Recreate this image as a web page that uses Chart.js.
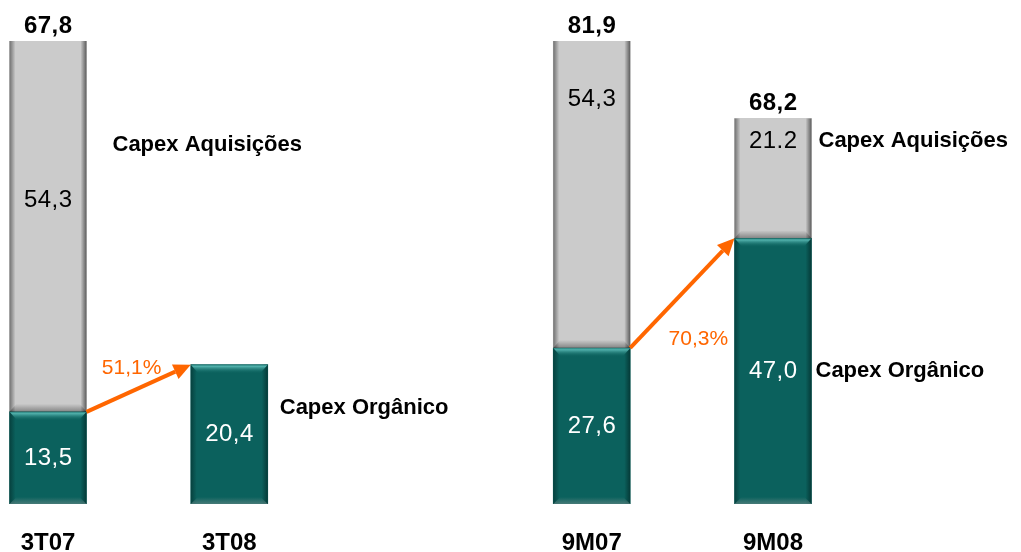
<!DOCTYPE html>
<html>
<head>
<meta charset="utf-8">
<script src="https://cdn.jsdelivr.net/npm/chart.js@4.4.1/dist/chart.umd.min.js"></script>
<style>
  html, body { margin: 0; padding: 0; background: #fff; }
  #wrap { width: 1021px; height: 552px; }
</style>
</head>
<body>
<div id="wrap"><canvas id="capex-chart" width="1021" height="552"></canvas></div>
<script>
// Capex (R$ milhões) - trimestre e acumulado
const leftPeriods = ["3T07", "3T08"];
const leftOrganico = [13.5, 20.4];
const leftAquisicoes = [54.3, null];

const rightPeriods = ["9M07", "9M08"];
const rightOrganico = [27.6, 47.0];
const rightAquisicoes = [54.3, 21.2];
const rightAquisicoesText = ["54,3", "21.2"];

const serieNames = ["Capex Orgânico", "Capex Aquisições"];

// slot of each bar on the x axis (slot 2 is the gap between the panels)
const leftSlots = [0, 1];
const rightSlots = [3, 4];

const FONT = "'Liberation Sans', Arial, sans-serif";
const TEAL = "#0b615d";
const GREY = "#cbcbcb";
const ORANGE = "#ff6600";

Chart.defaults.font.family = FONT;

const fmt = v => v.toFixed(1).replace(".", ",");
const points = (slots, values) => slots.map((s, i) => ({ x: s, y: values[i] }));
const maxTotal = (a, b) => Math.max(...a.map((v, i) => v + (b[i] || 0)));

const allSlots = leftSlots.concat(rightSlots);
const allPeriods = leftPeriods.concat(rightPeriods);

// x range so that slot 0 sits at 48px and slot 4 at 773px of the 1021px canvas
const slotPx = (773 - 48) / 4;
const xMin = -48 / slotPx;
const xMax = xMin + 1021 / slotPx;

const panels = [
  { org: 0, aq: 1, pct: [-7, -20],
    notes: [{ ds: 1, idx: 0, dx: 26, at: 0.28, text: serieNames[1] },
            { ds: 0, idx: 1, dx: 12, at: 0.31, text: serieNames[0] }] },
  { org: 2, aq: 3, pct: [16, 46],
    notes: [{ ds: 3, idx: 1, dx: 7, at: 0.19, text: serieNames[1] },
            { ds: 2, idx: 1, dx: 4, at: 0.5, text: serieNames[0] }] }
];

function drawText(ctx, text, x, y, font, color, align, spacing) {
  ctx.save();
  ctx.font = font;
  ctx.fillStyle = color;
  ctx.textAlign = align || "center";
  ctx.textBaseline = "middle";
  ctx.letterSpacing = (spacing || 0) + "px";
  const dx = align === "left" ? 0 : (spacing || 0) / 2;
  ctx.fillText(text, x + dx, y);
  ctx.restore();
}

function edgeGrad(ctx, x0, x1, c0, c1) {
  const g = ctx.createLinearGradient(x0, 0, x1, 0);
  g.addColorStop(0, c0);
  g.addColorStop(1, c1);
  return g;
}

function shade(ctx, x0, y0, w, h, kind) {
  const x1 = x0 + w, y1 = y0 + h;
  ctx.save();
  const dark = kind === "org" ? "rgba(0,25,24," : "rgba(0,0,0,";
  ctx.fillStyle = edgeGrad(ctx, x0, x0 + 6, dark + "0.45)", dark + "0)");
  ctx.fillRect(x0, y0, 6, h);
  ctx.fillStyle = edgeGrad(ctx, x1 - 6, x1, dark + "0)", dark + "0.55)");
  ctx.fillRect(x1 - 6, y0, 6, h);

  if (kind === "org") {
    const g = ctx.createLinearGradient(0, y0, 0, y0 + 9);
    g.addColorStop(0, "rgba(40,130,125,1)");
    g.addColorStop(0.2, "rgba(80,175,170,1)");
    g.addColorStop(1, "rgba(11,97,93,0)");
    ctx.fillStyle = g;
    ctx.beginPath();
    ctx.moveTo(x0, y0); ctx.lineTo(x1, y0); ctx.lineTo(x1 - 8, y0 + 9); ctx.lineTo(x0 + 8, y0 + 9);
    ctx.closePath(); ctx.fill();
    const b = ctx.createLinearGradient(0, y1 - 7, 0, y1);
    b.addColorStop(0, "rgba(90,130,128,0)");
    b.addColorStop(1, "rgba(90,130,128,0.75)");
    ctx.fillStyle = b;
    ctx.beginPath();
    ctx.moveTo(x0, y1); ctx.lineTo(x1, y1); ctx.lineTo(x1 - 7, y1 - 7); ctx.lineTo(x0 + 7, y1 - 7);
    ctx.closePath(); ctx.fill();
  } else {
    const b = ctx.createLinearGradient(0, y1 - 8, 0, y1);
    b.addColorStop(0, "rgba(0,0,0,0)");
    b.addColorStop(1, "rgba(0,0,0,0.35)");
    ctx.fillStyle = b;
    ctx.beginPath();
    ctx.moveTo(x0, y1); ctx.lineTo(x1, y1); ctx.lineTo(x1 - 7, y1 - 8); ctx.lineTo(x0 + 7, y1 - 8);
    ctx.closePath(); ctx.fill();
  }
  ctx.restore();
}

function barBox(chart, di, i) {
  const p = chart.getDatasetMeta(di).data[i].getProps(["x", "y", "base", "width"], true);
  return { left: p.x - p.width / 2, right: p.x + p.width / 2, top: p.y, bottom: p.base, cx: p.x, h: p.base - p.y, w: p.width };
}

function arrow(ctx, xa, ya, xb, yb) {
  const ang = Math.atan2(yb - ya, xb - xa);
  const len = 17, half = 8;
  const bx = xb - len * Math.cos(ang), by = yb - len * Math.sin(ang);
  ctx.save();
  ctx.strokeStyle = ORANGE;
  ctx.fillStyle = ORANGE;
  ctx.lineWidth = 4;
  ctx.beginPath(); ctx.moveTo(xa, ya); ctx.lineTo(bx, by); ctx.stroke();
  ctx.beginPath();
  ctx.moveTo(xb, yb);
  ctx.lineTo(bx + half * Math.sin(ang), by - half * Math.cos(ang));
  ctx.lineTo(bx - half * Math.sin(ang), by + half * Math.cos(ang));
  ctx.closePath(); ctx.fill();
  ctx.restore();
}

const decorPlugin = {
  id: "decor",
  afterDatasetsDraw(chart) {
    const ctx = chart.ctx;
    const ds = chart.data.datasets;
    const xs = chart.scales.x;

    // category labels under the bars
    allSlots.forEach((s, i) => {
      drawText(ctx, allPeriods[i], xs.getPixelForValue(s), chart.chartArea.bottom + 39,
        "bold 24px " + FONT, "#000", "center", 0);
    });

    // bevel shading and value labels
    ds.forEach((d, di) => {
      d.data.forEach((pt, i) => {
        if (pt.y == null) return;
        const b = barBox(chart, di, i);
        shade(ctx, b.left, b.top, b.w, b.h, d.kind);
        const txt = d.texts ? d.texts[i] : fmt(pt.y);
        drawText(ctx, txt, b.cx, b.top + b.h * d.labelAt, "24px " + FONT, d.textColor, "center", 0.5);
      });
    });

    panels.forEach(p => {
      const org = ds[p.org].data, aq = ds[p.aq].data;
      // totals above stacked bars
      aq.forEach((pt, i) => {
        if (pt.y == null) return;
        const b = barBox(chart, p.aq, i);
        drawText(ctx, fmt(org[i].y + pt.y), b.cx, b.top - 15, "bold 24px " + FONT, "#000", "center", 0.5);
      });
      // growth arrow between organic bars
      const a = barBox(chart, p.org, 0), c = barBox(chart, p.org, 1);
      arrow(ctx, a.right, a.top, c.left, c.top);
      const growth = (org[1].y / org[0].y - 1) * 100;
      drawText(ctx, fmt(growth) + "%", (a.right + c.left) / 2 + p.pct[0], (a.top + c.top) / 2 + p.pct[1],
        "21px " + FONT, ORANGE, "center", 0);
      // series notes
      p.notes.forEach(n => {
        const b = barBox(chart, n.ds, n.idx);
        drawText(ctx, n.text, b.right + n.dx, b.top + b.h * n.at, "bold 22px " + FONT, "#000", "left", 0);
      });
    });
  }
};

new Chart("capex-chart", {
  type: "bar",
  data: {
    datasets: [
      { label: serieNames[0], data: points(leftSlots, leftOrganico), yAxisID: "yL",
        backgroundColor: TEAL, kind: "org", textColor: "#fff", labelAt: 0.5 },
      { label: serieNames[1], data: points(leftSlots, leftAquisicoes), yAxisID: "yL",
        backgroundColor: GREY, kind: "aq", textColor: "#000", labelAt: 0.43 },
      { label: serieNames[0], data: points(rightSlots, rightOrganico), yAxisID: "yR",
        backgroundColor: TEAL, kind: "org", textColor: "#fff", labelAt: 0.5 },
      { label: serieNames[1], data: points(rightSlots, rightAquisicoes), yAxisID: "yR",
        backgroundColor: GREY, kind: "aq", textColor: "#000", labelAt: 0.19, texts: rightAquisicoesText }
    ]
  },
  options: {
    responsive: false,
    animation: false,
    barThickness: 77,
    stack: "all",
    layout: { padding: { top: 41, left: 0, right: 0, bottom: 48 } },
    plugins: { legend: { display: false }, tooltip: { enabled: false } },
    scales: {
      x: { type: "linear", display: false, min: xMin, max: xMax, offset: false, stacked: true },
      yL: { display: false, stacked: true, min: 0, max: maxTotal(leftOrganico, leftAquisicoes) },
      yR: { display: false, stacked: true, min: 0, max: maxTotal(rightOrganico, rightAquisicoes) }
    }
  },
  plugins: [decorPlugin]
});
</script>
</body>
</html>
